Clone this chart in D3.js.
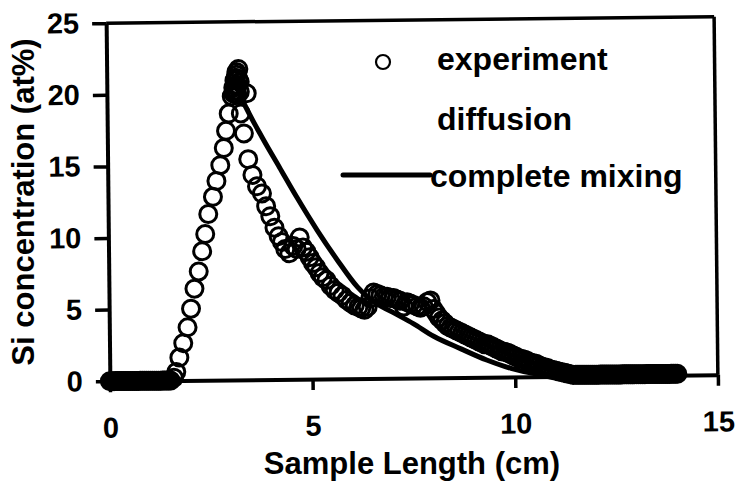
<!DOCTYPE html>
<html>
<head>
<meta charset="utf-8">
<script src="https://cdn.jsdelivr.net/npm/d3@7"></script>
<style>
  body { margin: 0; background: #fff; }
  text { font-family: "Liberation Sans", Arial, sans-serif; font-weight: bold; fill: #000; }
</style>
</head>
<body>
<div id="chart"></div>
<script>
// 1: DATA
const xTicks = [0, 5, 10, 15];
const yTicks = [0, 5, 10, 15, 20, 25];

// experiment points: flat start, rising edge, peak, decay, flat tail
const expX = [
  0.00, 0.05, 0.10, 0.15, 0.20, 0.25, 0.30, 0.35, 0.40, 0.45, 0.50, 0.55, 0.60, 0.65, 0.70, 0.75,
  0.80, 0.85, 0.90, 0.95, 1.00, 1.05, 1.10, 1.15, 1.20, 1.25, 1.30, 1.35, 1.40, 1.45, 1.50,
  1.58, 1.64, 1.72, 1.82, 1.93, 2.02, 2.11, 2.22, 2.31, 2.39, 2.47, 2.59, 2.68, 2.78, 2.87, 2.93, 3.00,
  3.08, 3.12, 3.15, 3.20, 3.25, 3.22, 3.28, 3.18, 3.30, 3.45,
  3.15, 3.20, 3.25, 3.20, 3.28, 3.22, 3.12, 3.18,
  3.37, 3.47, 3.57, 3.68, 3.80, 3.90, 4.00, 4.10, 4.20, 4.28, 4.36, 4.46, 4.56, 4.64, 4.72, 4.80,
  4.88, 4.96, 5.04, 5.12, 5.20, 5.28, 5.37, 5.47, 5.57, 5.66, 5.76, 5.86, 5.96, 6.06, 6.15, 6.22,
  6.30, 6.38, 6.45, 6.53, 6.62, 6.70, 6.78, 6.86, 6.94, 7.02, 7.10, 7.18, 7.27, 7.35, 7.43, 7.51,
  7.60, 7.68, 7.76, 7.85, 7.93, 8.00, 8.07, 8.14, 8.21, 8.28, 8.35, 8.42, 8.49, 8.56, 8.63, 8.70,
  8.77, 8.84, 8.91, 8.98, 9.05, 9.12, 9.19, 9.26, 9.33, 9.40, 9.47, 9.54, 9.61, 9.68, 9.75, 9.82,
  9.89, 9.96, 10.03, 10.10, 10.17, 10.24, 10.31, 10.38, 10.45, 10.52, 10.59, 10.66, 10.73, 10.80,
  10.87, 10.94, 11.01, 11.08, 11.15, 11.22, 11.29, 11.36, 11.43, 11.50,
  11.55, 11.60, 11.65, 11.70, 11.75, 11.80, 11.85, 11.90, 11.95, 12.00, 12.05, 12.10, 12.15, 12.20,
  12.25, 12.30, 12.35, 12.40, 12.45, 12.50, 12.55, 12.60, 12.65, 12.70, 12.75, 12.80, 12.85, 12.90,
  12.95, 13.00, 13.05, 13.10, 13.15, 13.20, 13.25, 13.30, 13.35, 13.40, 13.45, 13.50, 13.55, 13.60,
  13.65, 13.70, 13.75, 13.80, 13.85, 13.90, 13.95, 14.00
];
const expY = [
  0, 0, 0, 0, 0, 0, 0, 0, 0, 0, 0, 0, 0, 0, 0, 0,
  0, 0, 0, 0, 0, 0, 0, 0, 0, 0, 0, 0, 0, 0, 0,
  0.2, 0.6, 1.6, 2.6, 3.7, 5.0, 6.4, 7.6, 9.0, 10.2, 11.6, 12.8, 13.9, 15.0, 16.2, 17.4, 18.6,
  19.8, 20.4, 20.9, 21.3, 21.7, 20.6, 20.1, 20.0, 18.6, 20.0,
  20.2, 20.5, 21.0, 21.5, 20.8, 19.9, 20.0, 21.1,
  17.2, 15.4, 14.3, 13.5, 13.0, 12.1, 11.4, 10.6, 10.0, 9.6, 9.1, 8.8, 9.3, 9.1, 9.9, 9.2,
  8.9, 8.5, 8.1, 7.8, 7.4, 7.1, 6.9, 6.5, 6.2, 6.0, 5.8, 5.5, 5.3, 5.1, 5.0, 4.9,
  4.8, 5.0, 5.6, 6.0, 5.9, 5.8, 5.7, 5.7, 5.6, 5.6, 5.5, 5.4, 5.0, 5.3, 5.2, 5.1,
  5.0, 4.9, 5.0, 5.3, 5.4, 4.8, 4.5, 4.2, 4.0, 3.8, 3.6, 3.5, 3.4, 3.3, 3.2, 3.1,
  3.0, 2.9, 2.8, 2.7, 2.6, 2.5, 2.4, 2.3, 2.3, 2.2, 2.1, 2.0, 1.9, 1.8, 1.75, 1.7,
  1.6, 1.5, 1.4, 1.3, 1.25, 1.2, 1.1, 1.0, 0.95, 0.9, 0.8, 0.7, 0.65, 0.6,
  0.5, 0.45, 0.4, 0.35, 0.3, 0.25, 0.2, 0.15, 0.1, 0.1,
  0.1, 0.1, 0.1, 0.1, 0.1, 0.1, 0.1, 0.1, 0.1, 0.1, 0.1, 0.1, 0.1, 0.1,
  0.1, 0.1, 0.1, 0.1, 0.1, 0.1, 0.1, 0.1, 0.1, 0.1, 0.1, 0.1, 0.1, 0.1,
  0.1, 0.1, 0.1, 0.1, 0.1, 0.1, 0.1, 0.1, 0.1, 0.1, 0.1, 0.1, 0.1, 0.1,
  0.1, 0.1, 0.1, 0.1, 0.1, 0.1, 0.1, 0.1
];

// complete mixing curve
const mixX = [3.22, 3.33, 3.82, 4.24, 4.66, 5.15, 5.64, 6.13, 6.45, 7.00, 7.50, 8.00, 8.67, 9.30, 9.90, 10.50, 11.20];
const mixY = [20.3, 19.6, 16.9, 14.8, 12.7, 10.4, 8.3, 6.4, 5.5, 4.6, 3.8, 2.9, 2.0, 1.2, 0.6, 0.2, 0];

const legendLabels = ["experiment", "diffusion", "complete mixing"];

// 2: SVG
const W = 736, H = 483;
const svg = d3.select("#chart").append("svg")
    .attr("width", W)
    .attr("height", H);

// the scanned plot is tilted a little
const plot = svg.append("g")
    .attr("transform", "rotate(-0.6, 412, 199)");

// 3: SCALES
const x = d3.scaleLinear().domain([0, 15]).range([108, 716]);
const y = d3.scaleLinear().domain([0, 25]).range([378, 20]);

// 4: AXES
const xAxis = plot.append("g")
    .attr("transform", `translate(0,${y(0)})`)
    .call(d3.axisBottom(x).tickValues(xTicks).tickSize(11).tickSizeOuter(0).tickPadding(25));

const yAxis = plot.append("g")
    .attr("transform", `translate(${x(0)},0)`)
    .call(d3.axisLeft(y).tickValues(yTicks).tickSize(14).tickSizeOuter(0).tickPadding(13));

[xAxis, yAxis].forEach(a => {
    a.select(".domain").attr("stroke", "#000").attr("stroke-width", 4);
    a.selectAll(".tick line").attr("stroke", "#000").attr("stroke-width", 3.5);
    a.selectAll(".tick text").style("font-size", "29px");
});

// top and right frame
plot.append("line")
    .attr("x1", x(0)).attr("x2", x(15))
    .attr("y1", y(25)).attr("y2", y(25))
    .attr("stroke", "#000").attr("stroke-width", 3.5);
plot.append("line")
    .attr("x1", x(15)).attr("x2", x(15))
    .attr("y1", y(25)).attr("y2", y(0))
    .attr("stroke", "#000").attr("stroke-width", 3.5);

// 5: PLOT DATA
const line = d3.line()
    .x((d, i) => x(mixX[i]))
    .y((d, i) => y(mixY[i]))
    .curve(d3.curveMonotoneX);

plot.append("path")
    .attr("d", line(mixX))
    .attr("fill", "none")
    .attr("stroke", "#000")
    .attr("stroke-width", 5);

plot.selectAll(".pt")
    .data(expX)
    .enter().append("circle")
    .attr("class", "pt")
    .attr("cx", d => x(d))
    .attr("cy", (d, i) => y(expY[i]))
    .attr("r", 8.5)
    .attr("fill", "none")
    .attr("stroke", "#000")
    .attr("stroke-width", 3);

// 6: LABELS
svg.append("text")
    .attr("x", 412)
    .attr("y", 474)
    .attr("text-anchor", "middle")
    .style("font-size", "31px")
    .text("Sample Length (cm)");

svg.append("text")
    .attr("transform", "translate(34,202) rotate(-90)")
    .attr("text-anchor", "middle")
    .style("font-size", "31px")
    .text("Si concentration (at%)");

// 7: LEGEND
svg.append("circle")
    .attr("cx", 383).attr("cy", 62).attr("r", 7)
    .attr("fill", "none").attr("stroke", "#000").attr("stroke-width", 2.2);
svg.append("line")
    .attr("x1", 343).attr("x2", 430)
    .attr("y1", 175).attr("y2", 175)
    .attr("stroke", "#000").attr("stroke-width", 5)
    .attr("stroke-linecap", "round");

const legendPos = [[437, 70], [437, 130], [430, 187]];
svg.selectAll(".leg")
    .data(legendLabels)
    .enter().append("text")
    .attr("class", "leg")
    .attr("x", (d, i) => legendPos[i][0])
    .attr("y", (d, i) => legendPos[i][1])
    .style("font-size", "32px")
    .text(d => d);
</script>
</body>
</html>
